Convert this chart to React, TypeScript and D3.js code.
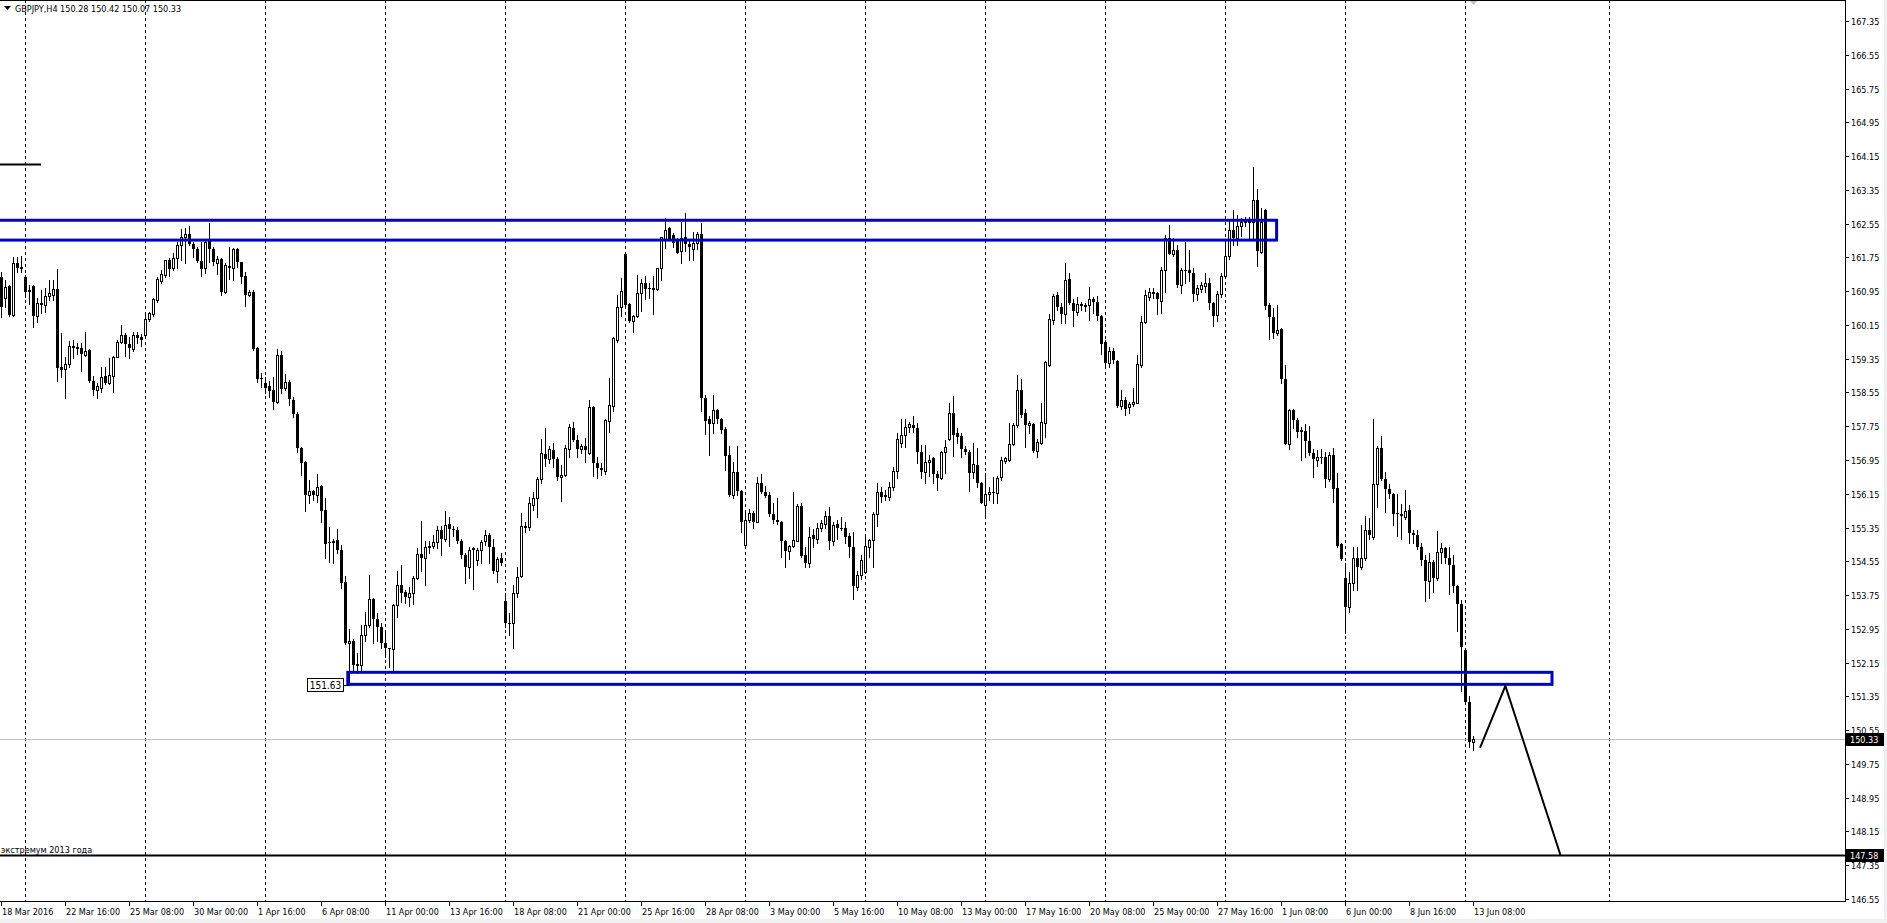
import React from "react";
import * as d3 from "d3";

type Bar = [number, number, number, number]; // open, high, low, close

// GBPJPY H4, one array per trading week (bars counted from 18 Mar 2016 00:00)
const wkMar18: Bar[] = [
  [161.29,161.41,160.34,160.58],[160.78,161.21,160.58,161.06],[161.07,161.10,160.35,160.38],
  [160.38,161.77,160.36,161.61],[161.61,161.75,161.41,161.51],[161.53,161.78,161.41,161.47],
];
const wkMar21: Bar[] = [
  [161.29,161.33,160.82,160.94],[160.97,161.10,160.65,160.94],[161.08,161.10,160.11,160.37],
  [160.36,160.78,160.23,160.66],[160.66,160.98,160.44,160.62],[160.62,161.02,160.46,160.84],
  [160.84,161.21,160.74,160.90],[160.87,161.21,160.74,160.99],[160.99,161.47,158.81,159.14],
  [159.15,159.95,158.92,159.08],[159.10,159.40,158.43,159.22],[159.22,159.78,159.16,159.64],
  [159.64,159.79,159.36,159.60],[159.62,159.73,159.46,159.59],[159.60,159.71,159.07,159.46],
  [159.44,159.99,159.41,159.53],[159.56,159.57,158.79,158.81],[158.81,158.94,158.49,158.61],
  [158.61,158.78,158.43,158.70],[158.66,159.15,158.57,158.91],[158.94,159.15,158.75,158.77],
  [158.77,159.37,158.75,158.96],[158.95,159.41,158.57,159.40],[159.40,159.79,159.38,159.74],
  [159.74,160.15,159.71,159.91],[159.91,159.97,159.41,159.69],[159.69,159.87,159.36,159.60],
  [159.57,159.99,159.54,159.91],[159.90,159.99,159.71,159.83],[159.86,159.94,159.65,159.79],
];
const wkMar28: Bar[] = [
  [159.90,160.44,159.87,160.28],[160.28,160.46,160.25,160.43],[160.40,160.78,160.35,160.76],
  [160.73,161.29,160.70,161.24],[161.20,161.45,161.14,161.36],[161.33,161.70,161.29,161.69],
  [161.70,161.73,161.31,161.47],[161.49,161.86,161.45,161.74],[161.73,162.12,161.49,162.04],
  [162.04,162.42,161.69,162.23],[162.23,162.44,161.61,162.31],[162.31,162.49,162.04,162.06],
  [162.06,162.12,161.77,161.96],[161.95,161.99,161.63,161.67],[161.66,162.12,161.31,161.47],
  [161.49,162.16,161.39,162.12],[162.16,162.56,161.65,161.95],[161.95,161.99,161.57,161.63],
  [161.61,161.78,161.36,161.71],[161.71,161.73,160.86,160.94],[160.94,161.61,160.90,161.57],
  [161.55,162.00,161.24,161.51],[161.51,161.97,161.21,161.94],[161.94,161.97,161.53,161.63],
  [161.63,161.65,161.15,161.29],[161.32,161.41,160.61,160.87],[160.87,160.98,160.83,160.93],
  [160.92,160.98,159.56,159.57],[159.60,159.62,158.79,158.88],[158.90,159.00,158.69,158.86],
];
const wkApr04: Bar[] = [
  [158.78,158.92,158.54,158.66],[158.70,158.81,158.45,158.58],[158.61,158.92,158.15,158.33],
  [158.33,159.57,158.31,159.44],[159.44,159.54,158.53,158.63],[158.66,158.99,158.62,158.79],
  [158.79,158.84,158.25,158.39],[158.37,158.45,157.96,158.03],[158.05,158.08,157.15,157.23],
  [157.24,157.25,156.60,156.87],[156.91,156.93,155.73,156.12],[156.12,156.48,155.92,156.22],
  [156.22,156.24,156.00,156.12],[156.12,156.63,155.96,156.32],[156.34,156.36,155.49,155.73],
  [155.77,156.04,154.62,154.96],[155.01,155.37,154.54,154.98],[155.04,155.09,154.52,154.99],
  [155.05,155.31,154.74,154.82],[154.82,154.94,153.91,154.03],[154.07,154.19,152.60,152.61],
  [152.62,152.94,151.63,152.67],[152.67,152.70,151.97,152.09],[152.11,152.37,151.90,152.07],
  [152.09,153.04,151.94,152.80],[152.80,153.36,152.67,153.04],[153.04,154.23,152.99,153.65],
  [153.65,153.67,152.61,153.18],[153.18,153.33,152.65,152.99],[152.99,153.10,152.49,152.62],
];
const wkApr11: Bar[] = [
  [152.62,152.88,152.29,152.49],[152.49,152.50,152.05,152.47],[152.47,153.55,151.97,153.52],
  [153.52,154.33,153.24,154.00],[154.00,154.46,153.59,153.81],[153.83,153.87,153.57,153.70],
  [153.70,153.95,153.48,153.79],[153.79,154.19,153.55,154.15],[154.15,154.86,154.12,154.72],
  [154.72,155.50,154.33,154.64],[154.64,155.02,153.99,154.88],[154.90,155.02,154.74,154.91],
  [154.91,155.17,154.86,155.01],[155.01,155.39,154.86,155.29],[155.29,155.39,154.70,155.07],
  [155.07,155.75,155.04,155.41],[155.43,155.61,154.91,155.31],[155.31,155.39,155.15,155.28],
  [155.29,155.37,154.98,155.04],[155.04,155.07,154.62,154.70],[154.70,154.74,154.04,154.41],
  [154.41,154.90,154.15,154.82],[154.86,154.88,153.89,154.82],[154.58,154.86,154.46,154.82],
  [154.82,155.05,154.50,155.01],[155.04,155.29,154.94,155.17],[155.17,155.21,154.50,154.90],
  [154.90,155.09,154.27,154.33],[154.33,154.66,154.07,154.60],[154.62,154.74,154.46,154.50],
];
const wkApr18: Bar[] = [
  [153.62,153.79,152.99,153.10],[153.10,153.32,152.80,153.07],[153.08,153.99,152.49,153.79],
  [153.79,154.42,153.70,154.17],[154.19,155.69,154.17,155.39],[155.37,155.49,155.25,155.39],
  [155.36,156.08,155.29,155.92],[155.88,156.20,155.77,156.04],[156.04,156.54,155.61,156.49],
  [156.49,157.44,156.41,157.11],[157.09,157.70,156.81,156.97],[156.97,157.27,156.89,157.20],
  [157.19,157.35,156.79,156.97],[156.97,157.01,156.48,156.54],[156.54,156.83,155.98,156.60],
  [156.60,157.31,156.56,157.23],[157.20,157.80,157.03,157.72],[157.70,157.86,157.39,157.42],
  [157.42,157.54,157.01,157.20],[157.20,157.33,157.11,157.27],[157.27,157.46,156.91,157.19],
  [157.11,158.37,157.09,158.20],[158.20,158.22,156.57,156.89],[156.88,157.03,156.52,156.75],
  [156.74,156.87,156.59,156.77],[156.70,157.91,156.63,157.90],[157.87,158.89,157.62,158.25],
  [158.23,159.87,158.10,159.85],[159.79,160.86,159.75,160.58],[160.58,161.25,160.35,160.95],
];
const wkApr25: Bar[] = [
  [161.83,161.85,160.58,160.62],[160.64,160.68,160.23,160.25],[160.25,160.39,159.99,160.36],
  [160.36,161.33,160.33,160.90],[160.90,161.23,160.47,161.14],[161.14,161.31,160.76,161.01],
  [161.02,161.14,160.78,161.01],[161.02,161.31,160.41,160.98],[160.99,161.51,160.97,161.49],
  [161.49,162.24,161.21,162.23],[162.18,162.68,161.97,162.41],[162.44,162.48,162.16,162.18],
  [162.28,162.32,161.99,162.10],[162.18,162.20,161.85,161.86],[161.89,162.60,161.61,162.20],
  [162.23,162.79,161.89,162.06],[162.06,162.16,161.69,162.00],[161.96,162.34,161.69,162.08],
  [162.08,162.36,161.96,162.30],[162.30,162.56,158.10,158.43],[158.43,158.49,157.57,157.88],
  [157.91,157.99,157.07,157.80],[157.82,158.49,157.60,158.13],[158.13,158.15,157.82,157.91],
  [157.91,157.94,157.60,157.66],[157.68,157.72,156.71,157.04],[157.07,157.27,156.10,156.12],
  [156.12,156.91,156.04,156.67],[156.67,157.27,156.12,156.22],[156.22,156.24,155.25,155.49],
];
const wkMay02: Bar[] = [
  [154.94,155.77,154.86,155.53],[155.53,155.80,155.49,155.69],[155.70,155.73,155.33,155.49],
  [155.49,156.55,155.47,156.41],[156.41,156.63,156.16,156.18],[156.20,156.33,156.07,156.10],
  [156.12,156.18,155.62,155.67],[155.67,155.92,155.46,155.54],[155.54,156.04,155.43,155.49],
  [155.49,155.51,154.66,155.02],[155.02,155.06,154.41,154.80],[154.80,154.94,154.60,154.91],
  [154.91,156.20,154.89,155.06],[155.04,155.91,155.02,155.86],[155.86,155.94,154.66,154.68],
  [154.70,154.90,154.41,154.52],[154.52,155.37,154.42,155.13],[155.17,155.31,154.90,155.09],
  [155.09,155.45,154.98,155.35],[155.35,155.54,155.27,155.45],[155.43,155.73,155.33,155.62],
  [155.62,155.84,154.83,155.04],[155.04,155.49,154.94,155.41],[155.43,155.53,155.09,155.33],
  [155.35,155.59,155.29,155.31],[155.33,155.49,154.99,155.13],[155.15,155.21,154.66,154.88],
  [154.88,155.25,153.65,153.96],[153.93,154.33,153.87,154.23],[154.23,154.70,154.12,154.58],
];
const wkMay09: Bar[] = [
  [154.30,155.20,154.27,154.91],[154.90,155.09,154.66,155.06],[155.06,155.72,154.41,155.67],
  [155.67,156.40,155.39,156.18],[156.18,156.32,155.96,156.07],[156.12,156.24,156.00,156.07],
  [156.07,156.44,156.00,156.30],[156.30,156.79,156.25,156.70],[156.70,157.60,156.52,157.45],
  [157.36,157.91,157.25,157.54],[157.54,157.91,157.25,157.72],[157.72,157.86,157.62,157.80],
  [157.78,157.99,157.62,157.70],[157.70,157.82,156.89,157.15],[157.15,157.31,156.52,156.67],
  [156.67,157.31,156.41,156.91],[156.91,157.07,156.56,156.96],[156.99,157.01,156.40,156.62],
  [156.62,156.70,156.25,156.52],[156.52,157.17,156.49,157.15],[157.15,157.42,156.65,157.25],
  [157.44,158.31,157.42,158.06],[158.07,158.47,157.04,157.54],[157.58,157.70,157.35,157.50],
  [157.52,157.58,157.03,157.20],[157.20,157.28,157.09,157.15],[157.15,157.19,156.22,156.65],
  [156.67,157.36,156.52,156.85],[156.83,157.23,156.30,156.40],[156.41,156.43,155.93,155.94],
];
const wkMay16: Bar[] = [
  [155.89,156.65,155.65,156.14],[156.14,156.32,156.00,156.20],[156.18,156.55,155.94,156.20],
  [156.16,156.57,155.94,156.52],[156.54,157.01,156.48,156.96],[156.93,157.03,156.89,156.99],
  [156.96,157.83,156.93,157.34],[157.34,157.83,157.30,157.78],[157.78,158.96,157.74,158.62],
  [158.61,158.88,157.98,158.02],[158.06,158.15,157.25,157.78],[157.78,157.88,157.58,157.82],
  [157.80,157.83,157.15,157.17],[157.17,157.44,157.01,157.38],[157.36,158.31,157.34,157.86],
  [157.82,159.30,157.50,159.26],[159.20,160.42,159.18,160.28],[160.27,160.88,160.17,160.83],
  [160.86,160.94,160.50,160.57],[160.57,160.68,160.19,160.42],[160.42,161.61,160.19,161.21],
  [161.23,161.37,160.65,160.66],[160.66,160.76,160.12,160.48],[160.46,160.82,160.38,160.64],
  [160.64,160.70,160.50,160.60],[160.60,160.66,160.49,160.62],[160.62,161.06,160.27,160.76],
  [160.76,160.82,160.44,160.70],[160.70,160.83,160.27,160.36],[160.36,160.38,159.46,159.70],
];
const wkMay23: Bar[] = [
  [159.75,159.79,159.12,159.24],[159.24,159.63,159.16,159.53],[159.53,159.60,159.24,159.32],
  [159.30,159.33,158.20,158.23],[158.23,158.62,158.17,158.37],[158.37,158.45,158.02,158.17],
  [158.20,158.33,158.07,158.28],[158.28,158.65,158.23,158.33],[158.31,159.44,158.29,159.22],
  [159.20,160.35,159.16,160.23],[160.23,160.98,160.20,160.86],[160.82,161.02,160.74,160.94],
  [160.94,161.02,160.78,160.88],[160.90,160.94,160.42,160.76],[160.72,161.53,160.44,161.45],
  [161.45,162.28,160.94,162.22],[162.22,162.52,161.83,161.84],[161.84,162.20,161.78,161.92],
  [161.92,162.04,161.04,161.09],[161.09,161.49,160.91,161.45],[161.44,162.12,161.14,161.45],
  [161.44,161.92,161.20,161.39],[161.39,161.49,160.72,160.88],[160.88,161.10,160.75,161.02],
  [160.99,161.16,160.93,161.09],[161.07,161.39,160.93,161.14],[161.14,161.27,160.52,160.68],
  [160.68,160.70,160.13,160.35],[160.38,160.96,160.24,160.89],[160.89,161.39,160.81,161.30],
];
const wkMay30: Bar[] = [
  [161.30,162.09,161.25,161.79],[161.79,162.62,161.72,162.41],[162.41,162.87,162.04,162.20],
  [162.20,162.75,162.04,162.50],[162.50,162.68,162.25,162.59],[162.59,162.71,162.50,162.62],
  [162.58,162.71,162.18,162.62],[162.59,163.88,162.18,163.10],[163.10,163.38,161.55,161.90],
  [161.88,162.91,161.85,162.59],[162.87,162.90,160.52,160.61],[160.63,160.66,159.82,160.33],
  [160.33,160.56,159.85,159.96],[159.96,160.63,159.92,160.03],[160.06,160.07,158.78,158.86],
  [158.86,159.21,157.32,157.34],[157.34,158.16,157.20,158.14],[158.14,158.16,157.70,157.89],
  [157.89,157.95,157.49,157.61],[157.66,157.73,156.94,157.61],[157.64,157.80,157.01,157.40],
  [157.40,157.75,157.08,157.12],[157.12,157.21,156.55,156.97],[156.95,157.18,156.81,157.01],
  [157.01,157.21,156.87,157.03],[157.03,157.15,156.32,156.50],[156.50,157.15,156.46,157.06],
  [157.08,157.24,155.95,156.27],[156.29,156.64,154.89,154.91],[154.96,154.98,154.57,154.61],
];
const wkJun06: Bar[] = [
  [154.15,154.52,152.86,153.46],[153.46,154.29,153.34,154.04],[154.04,154.89,153.87,154.63],
  [154.63,154.89,153.87,154.41],[154.41,155.40,154.36,154.63],[154.63,155.63,154.57,155.28],
  [155.28,155.58,155.07,155.17],[155.12,157.93,155.09,156.38],[156.38,157.27,155.83,157.24],
  [157.24,157.52,156.48,156.50],[156.50,156.66,155.72,156.27],[156.27,156.38,156.04,156.14],
  [156.14,156.16,155.40,155.67],[155.70,156.14,155.15,155.67],[155.67,155.90,155.07,155.63],
  [155.61,156.23,155.55,155.74],[155.77,155.89,154.98,155.21],[155.21,155.30,154.98,155.17],
  [155.17,155.30,154.84,154.89],[154.89,154.98,154.47,154.59],[154.59,154.71,153.62,154.08],
  [154.08,154.75,153.69,154.54],[154.54,154.59,153.83,154.15],[154.15,155.26,154.11,154.78],
  [154.78,154.98,154.50,154.87],[154.87,154.89,154.50,154.63],[154.63,154.89,153.78,154.47],
  [154.47,154.71,153.83,153.97],[153.97,153.99,152.91,153.55],[153.55,153.64,151.48,152.51],
];
const wkJun13: Bar[] = [
  [152.45,152.47,151.20,151.22],[151.22,151.35,150.14,150.28],[150.28,150.42,150.07,150.33],
];

const priceTicks = [
  167.35, 166.55, 165.75, 164.95, 164.15, 163.35, 162.55, 161.75, 160.95, 160.15, 159.35,
  158.55, 157.75, 156.95, 156.15, 155.35, 154.55, 153.75, 152.95, 152.15, 151.35, 150.55,
  149.75, 148.95, 148.15, 147.35, 146.55,
];
const timeLabels = [
  "18 Mar 2016", "22 Mar 16:00", "25 Mar 08:00", "30 Mar 00:00", "1 Apr 16:00", "6 Apr 08:00",
  "11 Apr 00:00", "13 Apr 16:00", "18 Apr 08:00", "21 Apr 00:00", "25 Apr 16:00", "28 Apr 08:00",
  "3 May 00:00", "5 May 16:00", "10 May 08:00", "13 May 00:00", "17 May 16:00", "20 May 08:00",
  "25 May 00:00", "27 May 16:00", "1 Jun 08:00", "6 Jun 00:00", "8 Jun 16:00", "13 Jun 08:00",
];
const labelEveryBars = 16;
// weekly separators (bar index of Monday 00:00) plus one in the future area
const gridBars = [6, 36, 66, 96, 126, 156, 186, 216, 246, 276, 306, 336, 366, 402];

const headerText = "GBPJPY,H4  150.28 150.42 150.07 150.33";
const upperZone = { top: 162.63, bottom: 162.16, fromBar: -5, toBar: 318.9 };
const lowerZone = { top: 151.92, bottom: 151.635, fromBar: 86.7, toBar: 387.75 };
const lowLabel = { text: "151.63", price: 151.63, bar: 87 };
const shortLine = { price: 163.95, fromBar: -1, toBar: 10 };
const extremeLevel = 147.58;
const extremeText = "экстремум 2013 года";
const lastPrice = 150.33;
const projection: [number, number][] = [[369.75, 150.13], [376.1, 151.6], [389.9, 147.58]];

const W = 1887;
const H = 923;
const PLOT_R = 1845;
const PLOT_B = 901;
const FONT = "'DejaVu Sans Condensed', 'DejaVu Sans', sans-serif";
const BLUE = "#0000cd";

export default function App() {
  const candles: Bar[] = [
    ...wkMar18, ...wkMar21, ...wkMar28, ...wkApr04, ...wkApr11, ...wkApr18, ...wkApr25,
    ...wkMay02, ...wkMay09, ...wkMay16, ...wkMay23, ...wkMay30, ...wkJun06, ...wkJun13,
  ];
  const x = d3.scaleLinear().domain([0, 461]).range([1, PLOT_R]);
  const y = d3.scaleLinear().domain([146.502, 167.848]).range([PLOT_B, 0]);
  const ry = (p: number) => Math.round(y(p));
  const rx = (b: number) => Math.round(x(b));
  const line = d3.line<[number, number]>().x((d) => x(d[0])).y((d) => y(d[1]));

  const zoneRect = (z: { top: number; bottom: number; fromBar: number; toBar: number }) => (
    <rect
      x={x(z.fromBar)}
      y={y(z.top)}
      width={x(z.toBar) - x(z.fromBar)}
      height={y(z.bottom) - y(z.top)}
      fill="none"
      stroke={BLUE}
      strokeWidth={3}
    />
  );

  return (
    <svg
      width={W}
      height={H}
      style={{ position: "absolute", left: 0, top: 0, background: "#fff" }}
      fontFamily={FONT}
      fontSize={9}
    >
      <rect x={0} y={0} width={W} height={H} fill="#fff" />
      <rect x={0} y={919} width={W} height={4} fill="#f0f0f0" />
      <rect x={1884} y={0} width={3} height={H} fill="#f0f0f0" />

      {/* weekly grid */}
      {gridBars.map((b) => (
        <line key={"g" + b} x1={rx(b) + 0.5} x2={rx(b) + 0.5} y1={0} y2={PLOT_B} stroke="#000" strokeDasharray="3,3" />
      ))}

      {/* last price line */}
      <line x1={0} x2={PLOT_R} y1={ry(lastPrice) + 0.5} y2={ry(lastPrice) + 0.5} stroke="#c0c0c0" />

      {/* candles */}
      {candles.map(([o, h, l, c], i) => {
        const cx = rx(i);
        const yo = ry(o), yc = ry(c), yh = ry(h), yl = ry(l);
        const top = Math.min(yo, yc), bot = Math.max(yo, yc);
        const bull = c >= o;
        return (
          <g key={i}>
            <line x1={cx + 0.5} x2={cx + 0.5} y1={yh} y2={yl + 1} stroke="#000" />
            {bull ? (
              bot - top < 1 ? (
                <line x1={cx - 1} x2={cx + 2} y1={top + 0.5} y2={top + 0.5} stroke="#000" />
              ) : (
                <rect x={cx - 0.5} y={top + 0.5} width={2} height={bot - top} fill="#fff" stroke="#000" />
              )
            ) : (
              <rect x={cx - 1} y={top} width={3} height={Math.max(bot - top, 1)} fill="#000" />
            )}
          </g>
        );
      })}

      {/* zones */}
      {zoneRect(upperZone)}
      {zoneRect(lowerZone)}

      {/* short line top-left */}
      <line x1={x(shortLine.fromBar)} x2={x(shortLine.toBar)} y1={y(shortLine.price)} y2={y(shortLine.price)} stroke="#000" strokeWidth={2} />

      {/* low price label */}
      <g>
        <line x1={x(lowLabel.bar) - 6} x2={x(lowLabel.bar)} y1={ry(lowLabel.price) + 0.5} y2={ry(lowLabel.price) + 0.5} stroke="#000" />
        <rect x={x(lowLabel.bar) - 41.5} y={ry(lowLabel.price) - 6.5} width={36} height={13} fill="#fff" stroke="#000" />
        <text x={x(lowLabel.bar) - 23.5} y={ry(lowLabel.price) + 4} textAnchor="middle" fontSize={10}>{lowLabel.text}</text>
      </g>

      {/* 2013 extreme level */}
      <line x1={0} x2={PLOT_R} y1={y(extremeLevel)} y2={y(extremeLevel)} stroke="#000" strokeWidth={2} />
      <text x={1} y={y(extremeLevel) - 2}>{extremeText}</text>

      {/* projection path */}
      <path d={line(projection) || ""} fill="none" stroke="#000" strokeWidth={2} />

      {/* frame / axes */}
      <line x1={0} x2={PLOT_R} y1={0.5} y2={0.5} stroke="#000" />
      <line x1={PLOT_R + 0.5} x2={PLOT_R + 0.5} y1={0} y2={PLOT_B + 1} stroke="#000" />
      <line x1={0} x2={PLOT_R + 1} y1={PLOT_B + 0.5} y2={PLOT_B + 0.5} stroke="#000" />

      {/* chart shift marker */}
      <path d={`M${rx(368) - 3},1 L${rx(368) + 4},1 L${rx(368) + 0.5},5 Z`} fill="#c0c0c0" />

      {/* price axis */}
      {priceTicks.map((p) => (
        <g key={"p" + p}>
          <line x1={PLOT_R + 1} x2={PLOT_R + 4} y1={ry(p) + 0.5} y2={ry(p) + 0.5} stroke="#000" />
          <text x={PLOT_R + 6} y={ry(p) + 4}>{p.toFixed(2)}</text>
        </g>
      ))}
      {[lastPrice, extremeLevel].map((p) => (
        <g key={"hl" + p}>
          <rect x={PLOT_R + 1} y={ry(p) - 6} width={38} height={13} fill="#000" />
          <text x={PLOT_R + 5} y={ry(p) + 4} fill="#fff">{p.toFixed(2)}</text>
        </g>
      ))}

      {/* time axis */}
      {timeLabels.map((t, i) => {
        const xx = rx(i * labelEveryBars);
        return (
          <g key={"t" + i}>
            <line x1={xx + 0.5} x2={xx + 0.5} y1={PLOT_B + 1} y2={PLOT_B + 5} stroke="#000" />
            <text x={xx + 1} y={915}>{t}</text>
          </g>
        );
      })}

      {/* header */}
      <path d="M4,6 L11,6 L7.5,10 Z" fill="#000" />
      <text x={15} y={12}>{headerText}</text>
    </svg>
  );
}
